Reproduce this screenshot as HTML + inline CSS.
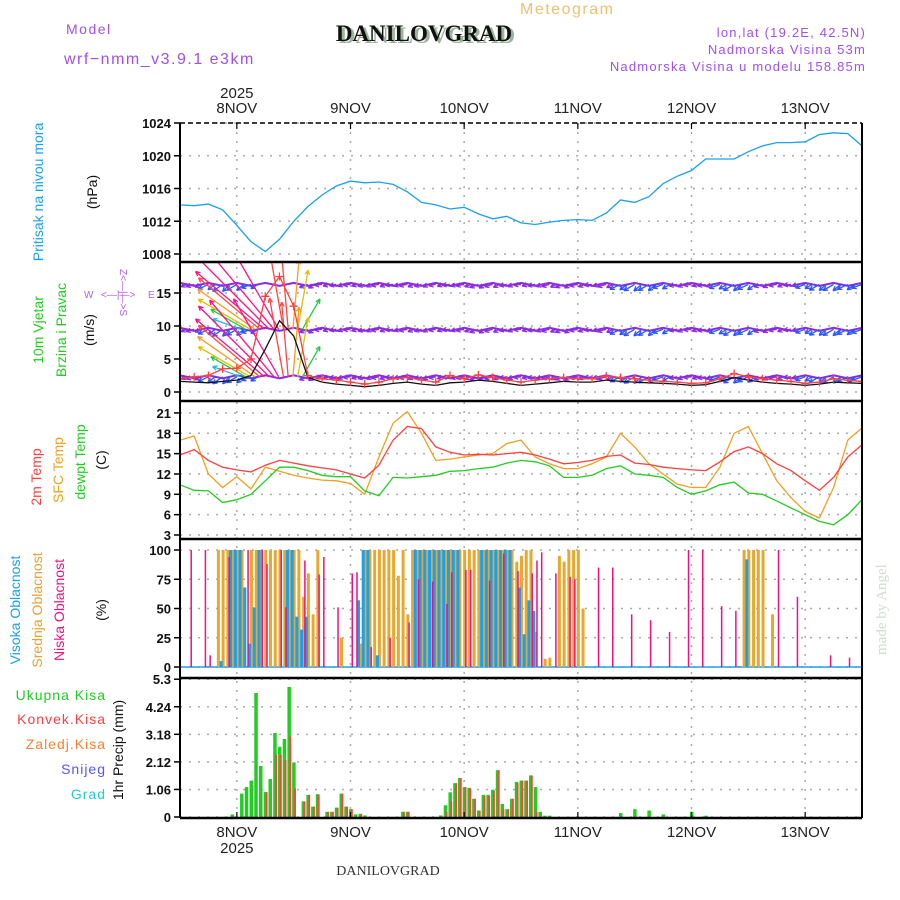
<!DOCTYPE html>
<html><head><meta charset="utf-8"><style>
html,body{margin:0;padding:0;background:#fff;}
svg{display:block;font-family:"Liberation Sans",sans-serif;}
</style></head><body>
<svg id="chart" width="900" height="900" viewBox="0 0 900 900" xmlns="http://www.w3.org/2000/svg">
<defs>
<clipPath id="cw"><rect x="180" y="262" width="682" height="139"/></clipPath>
</defs>
<rect width="900" height="900" fill="#fff"/>
<g>
<text x="66" y="34" fill="#a050f0" font-size="14" letter-spacing="1.5">Model</text>
<text x="64" y="64" fill="#a050f0" font-size="16" letter-spacing="1.5">wrf−nmm_v3.9.1 e3km</text>
<text x="427" y="43" text-anchor="middle" font-family="Liberation Serif,serif" font-weight="bold" font-size="23" fill="#9bb49b">DANILOVGRAD</text>
<text x="424" y="41" text-anchor="middle" font-family="Liberation Serif,serif" font-weight="bold" font-size="23" fill="#111">DANILOVGRAD</text>
<text x="520" y="14" fill="#f0c070" font-size="16" letter-spacing="1.5">Meteogram</text>
<text x="866" y="37" text-anchor="end" fill="#a050f0" font-size="13" letter-spacing="1.2">lon,lat (19.2E, 42.5N)</text>
<text x="866" y="54" text-anchor="end" fill="#a050f0" font-size="13" letter-spacing="1.2">Nadmorska Visina 53m</text>
<text x="866" y="71" text-anchor="end" fill="#a050f0" font-size="13" letter-spacing="1.2">Nadmorska Visina u modelu 158.85m</text>
<text transform="translate(886,655) rotate(-90)" fill="#cfdccf" font-family="Liberation Serif,serif" font-size="15">made by Angel</text>
<text x="388" y="875" text-anchor="middle" font-family="Liberation Serif,serif" font-size="14" fill="#333">DANILOVGRAD</text>
</g>
<g font-size="14">
<text transform="translate(43,192) rotate(-90)" text-anchor="middle" fill="#1aa0f0">Pritisak na nivou mora</text>
<text transform="translate(97,192) rotate(-90)" text-anchor="middle" fill="#111">(hPa)</text>
<text transform="translate(43,330) rotate(-90)" text-anchor="middle" fill="#22cc22">10m Vjetar</text>
<text transform="translate(66,330) rotate(-90)" text-anchor="middle" fill="#22cc22">Brzina i Pravac</text>
<text transform="translate(94,330) rotate(-90)" text-anchor="middle" fill="#111">(m/s)</text>
<g fill="#b060f0" font-size="10">
<text x="84" y="298">W</text><text x="101" y="298">&lt;—|—&gt;</text><text x="148" y="298">E</text>
<text x="120" y="269" transform="rotate(90 120 269)">Z&lt;—|—&gt;S</text>
</g>
<text transform="translate(41,477) rotate(-90)" text-anchor="middle" fill="#ff4040">2m Temp</text>
<text transform="translate(63,470) rotate(-90)" text-anchor="middle" fill="#f0a020">SFC Temp</text>
<text transform="translate(85,462) rotate(-90)" text-anchor="middle" fill="#22cc22">dewpt Temp</text>
<text transform="translate(106,460) rotate(-90)" text-anchor="middle" fill="#111">(C)</text>
<text transform="translate(20,610) rotate(-90)" text-anchor="middle" fill="#1aa0f0">Visoka Oblacnost</text>
<text transform="translate(42,610) rotate(-90)" text-anchor="middle" fill="#e8a030">Srednja Oblacnost</text>
<text transform="translate(64,610) rotate(-90)" text-anchor="middle" fill="#f01080">Niska Oblacnost</text>
<text transform="translate(106,610) rotate(-90)" text-anchor="middle" fill="#111">(%)</text>
<g text-anchor="end" letter-spacing="1">
<text x="106" y="700" fill="#22cc22">Ukupna Kisa</text>
<text x="106" y="724" fill="#ff4040">Konvek.Kisa</text>
<text x="106" y="749" fill="#ff7f30">Zaledj.Kisa</text>
<text x="106" y="774" fill="#5555ff">Snijeg</text>
<text x="106" y="799" fill="#22cccc">Grad</text>
</g>
<text transform="translate(123,750) rotate(-90)" text-anchor="middle" fill="#111">1hr Precip (mm)</text>
</g>
<g id="grid"></g>
<g id="marks"></g>
<g id="frames"></g>
</svg>
<script>
// ---- data (time in hours from 7NOV 12UTC) ----
const dayLabels = ["8NOV","9NOV","10NOV","11NOV","12NOV","13NOV"];
const dayHours = [12,36,60,84,108,132];
const pressTicks = [1008,1012,1016,1020,1024];
const windTicks = [0,5,10,15];
const tempTicks = [3,6,9,12,15,18,21];
const cloudTicks = [0,25,50,75,100];
const precipTicks = [0,1.06,2.12,3.18,4.24,5.3];
const lineHours = [0,3,6,9,12,15,18,21,24,27,30,33,36,39,42,45,48,51,54,57,60,63,66,69,72,75,78,81,84,87,90,93,96,99,102,105,108,111,114,117,120,123,126,129,132,135,138,141,144];
const pressure = [1014.0,1013.9,1014.1,1013.4,1011.5,1009.5,1008.3,1009.8,1012.0,1013.8,1015.2,1016.3,1016.9,1016.7,1016.8,1016.5,1015.6,1014.3,1014.0,1013.5,1013.7,1012.9,1012.3,1012.6,1011.8,1011.6,1011.9,1012.1,1012.2,1012.1,1013.0,1014.6,1014.3,1015.0,1016.6,1017.5,1018.2,1019.6,1019.6,1019.6,1020.5,1021.2,1021.6,1021.6,1021.7,1022.6,1022.8,1022.7,1021.2];
const temp2m = [14.8,15.6,14.0,13.0,12.6,12.3,13.3,14.0,13.6,13.2,12.9,12.6,12.0,11.4,13.3,17.0,19.0,18.7,16.0,15.2,14.8,14.9,14.8,15.0,15.2,14.8,14.2,13.5,13.7,14.0,14.6,14.8,13.6,13.4,13.0,12.8,12.6,12.5,13.8,15.3,16.0,15.0,13.5,12.5,11.0,9.6,11.5,14.5,16.3];
const tempSfc = [17.0,17.6,12.0,10.0,11.6,9.8,13.0,12.4,11.8,11.4,11.1,11.0,10.6,9.0,14.5,19.5,21.2,18.0,14.0,14.2,14.5,14.8,15.0,16.5,17.0,14.5,13.5,12.8,12.8,13.5,14.5,18.0,16.0,13.5,12.0,10.5,10.0,10.0,13.0,18.0,19.0,15.0,11.0,8.5,6.5,5.5,10.0,17.0,18.8];
const dewpt = [10.4,9.6,9.5,7.8,8.2,9.0,11.0,13.0,13.0,12.5,11.8,11.6,11.6,9.5,8.8,11.5,11.4,11.6,11.8,12.4,12.5,12.8,13.0,13.6,14.0,13.8,13.2,11.5,11.5,11.8,12.8,13.2,12.0,11.8,11.5,10.0,9.0,9.5,10.4,10.8,9.2,9.0,8.0,7.0,6.0,5.0,4.5,6.0,8.2];
const windSpeed = [1.6,1.5,1.4,1.6,1.8,2.5,6.5,10.8,8.5,2.2,1.5,1.2,1.0,0.8,1.0,1.3,1.5,1.2,1.0,1.4,1.5,1.8,1.6,1.3,1.0,1.2,1.4,1.6,1.5,1.5,1.8,1.6,1.5,1.4,1.3,1.2,1.0,1.1,1.6,2.2,1.8,1.5,1.3,1.2,1.0,1.2,1.5,1.4,1.3];
const windGust = [2.0,2.3,2.5,3.5,3.6,5.0,14.5,17.5,13.0,2.5,2.0,1.8,1.5,1.2,1.5,2.0,2.2,1.8,1.5,2.5,2.0,2.6,2.2,1.8,1.5,1.8,2.0,2.2,2.0,2.0,2.4,2.2,2.0,1.8,1.6,1.5,1.3,1.4,2.0,2.8,2.3,2.0,1.8,1.6,1.3,1.5,2.0,1.8,1.6];
const rowDir = [190,195,205,215,210,200,150,120,110,200,185,190,185,195,190,185,190,195,190,185,190,200,195,190,185,190,195,200,190,185,195,205,210,210,200,190,185,190,200,210,205,195,190,185,200,210,210,205,200];
const rowSpd = [2.5,2.6,3.5,3.8,3.6,3.2,9,12,10,2.8,2.4,2.2,2.3,2.2,2.4,2.5,2.6,2.3,2.2,2.5,2.6,2.8,2.6,2.4,2.3,2.4,2.5,2.7,2.6,2.5,2.8,3.6,3.9,3.8,3.4,2.6,2.5,2.6,3.5,3.8,3.6,2.8,2.5,2.4,3.2,3.6,3.8,3.6,3.4];
const rowLevels = [16.3,9.5,2.3];
const fanHours = [12,13,14,15,16,17,18,19,20,21,22,23,24,25];
const fanDir = [160,150,150,145,140,140,135,130,120,100,95,85,80,60];
const fanSpd = [6,8,12,14,16,18,20,20,18,16,15,14,12,7];
const highT = [9,11,12,13,14,15,16,17,23,24,25,26,27,38,39,40,42,50,51,52,53,54,55,56,57,58,59,64,65,66,67,68,69,70,72,73,74,75,120];
const highV = [5,100,100,100,68,20,51,100,100,100,43,32,43,57,100,100,10,100,100,100,100,100,100,100,100,100,100,100,100,100,100,100,100,100,68,28,57,48,92];
const midT = [8,9,10,11,12,13,15,16,17,18,19,20,21,22,23,24,25,26,27,28,29,34,38,39,40,41,42,43,44,45,46,47,48,49,50,51,52,53,54,55,56,57,58,59,60,61,62,63,64,65,66,67,68,69,70,71,72,73,74,75,77,78,80,81,82,83,84,85,119,120,121,122,123,125];
const midV = [100,100,100,100,100,100,100,100,100,100,100,100,100,100,100,100,100,60,80,45,100,25,20,100,100,100,100,100,100,100,78,100,45,100,100,100,100,100,100,100,100,100,100,100,100,100,100,100,100,100,100,100,100,100,100,90,95,100,100,30,7,8,95,90,100,100,100,50,100,100,100,100,100,45];
const lowT = [2,5,6,10,14,17,18,21,22,26,29,30,33,36,37,40,44,48,50,53,56,57,60,61,65,68,71,74,75,76,79,82,83,88,91,95,99,103,107,110,114,117,126,130,137,141];
const lowV = [100,100,10,94,100,100,88,100,51,91,79,94,51,80,81,17,25,38,75,73,54,81,83,83,74,97,82,80,91,98,80,77,75,85,85,45,40,30,100,100,52,48,100,60,10,8];
const precipT = [11,13,14,15,16,17,18,19,20,21,22,23,24,26,27,28,29,31,32,33,34,35,36,37,38,39,47,48,55,56,57,58,59,60,61,62,63,64,65,66,67,68,69,70,71,72,73,74,75,76,77,78,93,96,99,102,108,111];
const precipTotal = [0.1,0.9,1.15,1.4,4.77,1.96,0.96,1.46,3.23,2.7,3.0,5.0,2.1,0.6,0.85,0.4,0.88,0.2,0.2,0.36,0.9,0.4,0.3,0.1,0.12,0.06,0.2,0.2,0.06,0.45,0.95,1.3,1.5,1.15,1.12,0.7,0.25,0.85,0.85,1.05,1.8,0.5,0.3,0.7,1.35,1.4,1.4,1.6,1.15,0.2,0.05,0.05,0.15,0.3,0.25,0.1,0.2,0.05];
const precipConv = [0,0,0,0,0,0,0.95,0,2.4,2.4,2.2,3.1,1.1,0.6,0.85,0.4,0.85,0.2,0.2,0.36,0.9,0.4,0.3,0,0.12,0,0.2,0.2,0,0.2,0.6,1.3,1.5,1.15,1.1,0.7,0.25,0.8,0.8,1.0,1.8,0.3,0.3,0.7,1.3,1.4,1.4,1.6,0.2,0.05,0,0,0,0,0,0,0,0];

// ---- scales ----
const X0=180, X1=862;
const xs = t => X0 + t*(X1-X0)/144;
const yP = p => 123 + (1024-p)*131/16;
const yW = v => 392 - v*6.6;
const yT = c => 535 - (c-3)*6.78;
const yC = c => 667 - c*1.17;
const yR = r => 817 - r*26.0;
const NS="http://www.w3.org/2000/svg";
function mk(tag, attrs, parent){const e=document.createElementNS(NS,tag);for(const k in attrs)e.setAttribute(k,attrs[k]);parent.appendChild(e);return e;}
const grid=document.getElementById('grid'), marks=document.getElementById('marks'), frames=document.getElementById('frames');
const panels=[{top:123,bot:262,ticks:pressTicks,y:yP,fmt:v=>v},{top:262,bot:401,ticks:windTicks,y:yW,fmt:v=>v},{top:401,bot:539,ticks:tempTicks,y:yT,fmt:v=>v},{top:539,bot:678,ticks:cloudTicks,y:yC,fmt:v=>v},{top:678,bot:818,ticks:precipTicks,y:yR,fmt:v=>v}];
const pnames=['pressure','wind','temperature','cloud','precip'];
panels.forEach((p,i)=>{
  p.ticks.forEach(v=>{
    const y=p.y(v);
    const gl=mk('line',{x1:X0,x2:X1,y1:y,y2:y,stroke:'#aaa','stroke-width':1.5,'stroke-dasharray':'2,7'},grid);
    
    
    const tk=mk('line',{x1:X0-6,x2:X0,y1:y,y2:y,stroke:'#000','stroke-width':1.5},frames);
    
    
    const tl=mk('text',{x:X0-9,y:y+5,'text-anchor':'end','font-size':13,'font-weight':'bold',fill:'#111'},frames);
    
    
    tl.textContent=p.fmt(v);
  });
});
dayHours.forEach((h,i)=>{
  const x=xs(h);
  const vl=mk('line',{x1:x,x2:x,y1:123,y2:818,stroke:'#aaa','stroke-width':1.5,'stroke-dasharray':'2,7'},grid);
  
  
  const t1=mk('text',{x:x,y:113,'text-anchor':'middle','font-size':15,fill:'#222'},frames);
  
  
  t1.textContent=dayLabels[i];
  const t2=mk('text',{x:x,y:837,'text-anchor':'middle','font-size':15,fill:'#222'},frames);
  
  
  t2.textContent=dayLabels[i];
});
const y1=mk('text',{x:xs(12),y:98,'text-anchor':'middle','font-size':15,fill:'#222'},frames);


y1.textContent='2025';
const y2=mk('text',{x:xs(12),y:853,'text-anchor':'middle','font-size':15,fill:'#222'},frames);


y2.textContent='2025';

function line(vals, yf, color, name, w){
  const pts=vals.map((v,i)=>xs(lineHours[i]).toFixed(1)+','+yf(v).toFixed(1)).join(' ');
  const pl=mk('polyline',{points:pts,fill:'none',stroke:color,'stroke-width':w||1.3},marks);
  
  
}
line(pressure,yP,'#1aa0f0','pressure-line');
// wind
const wg=mk('g',{'clip-path':'url(#cw)'},marks);


function wcol(s){return s<3?'#8a2be2':s<5?'#2a55ff':s<7?'#10c0e0':s<9?'#22cc44':s<11?'#99dd22':s<13?'#e0c000':s<15?'#ff9922':s<17?'#ff4444':'#ff1188';}
function arrow(x,y,dir,spd,scale){
  const L=spd*scale, a=dir*Math.PI/180;
  const ex=x+L*Math.cos(a), ey=y-L*Math.sin(a);
  const c=wcol(spd);
  const g=mk('g',{stroke:c,'stroke-width':1.3,fill:'none'},wg);
  
  
  mk('line',{x1:x,y1:y,x2:ex,y2:ey},g);
  const h=5;
  [a+Math.PI-0.45,a+Math.PI+0.45].forEach(b=>mk('line',{x1:ex,y1:ey,x2:ex+h*Math.cos(b),y2:ey-h*Math.sin(b)},g));
}
rowLevels.forEach((lv,ri)=>{
  const pts=rowSpd.map((s,i)=>xs(lineHours[i]).toFixed(1)+','+(yW(lv)+(i%2?1.5:-1.5)).toFixed(1)).join(' ');
  const rl=mk('polyline',{points:pts,fill:'none',stroke:'#8a2be2','stroke-width':2},wg);
  
  
  rowSpd.forEach((s,i)=>{ if(s<6){arrow(xs(lineHours[i]),yW(lv),rowDir[i],s,3.2);arrow(xs(lineHours[i])+7,yW(lv),rowDir[i]+10,s,2.6);} });
  if(ri>0) fanHours.forEach((h,i)=>arrow(xs(h)+4,yW(lv),fanDir[i],fanSpd[i],5));
});
function wline(vals,color,name){
  const pts=vals.map((v,i)=>xs(lineHours[i]).toFixed(1)+','+yW(v).toFixed(1)).join(' ');
  const pl=mk('polyline',{points:pts,fill:'none',stroke:color,'stroke-width':1.3},wg);
  
  
}
wline(windSpeed,'#111','wind-speed-line');
wline(windGust,'#ff4040','wind-gust-line');
windGust.forEach((v,i)=>{
  const x=xs(lineHours[i]), y=yW(v);
  const p=mk('path',{d:`M${x-4},${y}H${x+4}M${x},${y-4}V${y+4}`,stroke:'#ff4040','stroke-width':1.3},wg);
  
  
});
// temps
line(tempSfc,yT,'#f0a020','sfc-temp-line');
line(temp2m,yT,'#ff4040','temp-2m-line');
line(dewpt,yT,'#22cc22','dewpoint-line');
// clouds
const cb=mk('line',{x1:X0,x2:X1,y1:yC(0),y2:yC(0),stroke:'#1aa0f0','stroke-width':1.5},marks);


function bars(ts,vs,yf,off,w,color,name){
  ts.forEach((t,i)=>{
    const y=yf(vs[i]);
    const r=mk('rect',{x:xs(t)+off,y:y,width:w,height:Math.max(0,yf(0)-y),fill:color},marks);
    
    
  });
}
bars(midT,midV,yC,-1,3,'#e8a830','cloud-mid-bar');
bars(highT,highV,yC,-3,3,'#1aa0f0','cloud-high-bar');
bars(lowT,lowV,yC,1,1.5,'#f01080','cloud-low-bar');
// precip
bars(precipT,precipTotal,yR,-1.5,3.5,'#22cc22','precip-total-bar');
bars(precipT,precipConv,yR,0.5,1.8,'#ff4040','precip-conv-bar');
// frames
[123].forEach(y=>{const l=mk('line',{x1:X0,x2:X1,y1:y,y2:y,stroke:'#000','stroke-width':1.5,'stroke-dasharray':'5,3'},frames);});
[262,401,539,678,818].forEach(y=>{const l=mk('line',{x1:X0,x2:X1,y1:y,y2:y,stroke:'#000','stroke-width':2.5},frames);});
[X0,X1].forEach(x=>{const l=mk('line',{x1:x,x2:x,y1:123,y2:818,stroke:'#000','stroke-width':2},frames);});
dayHours.forEach(h=>{const x=xs(h);
 const a=mk('line',{x1:x,x2:x,y1:123,y2:129,stroke:'#000','stroke-width':1.2},frames);
 const b=mk('line',{x1:x,x2:x,y1:812,y2:818,stroke:'#000','stroke-width':1.2},frames);});
</script>
</body></html>
